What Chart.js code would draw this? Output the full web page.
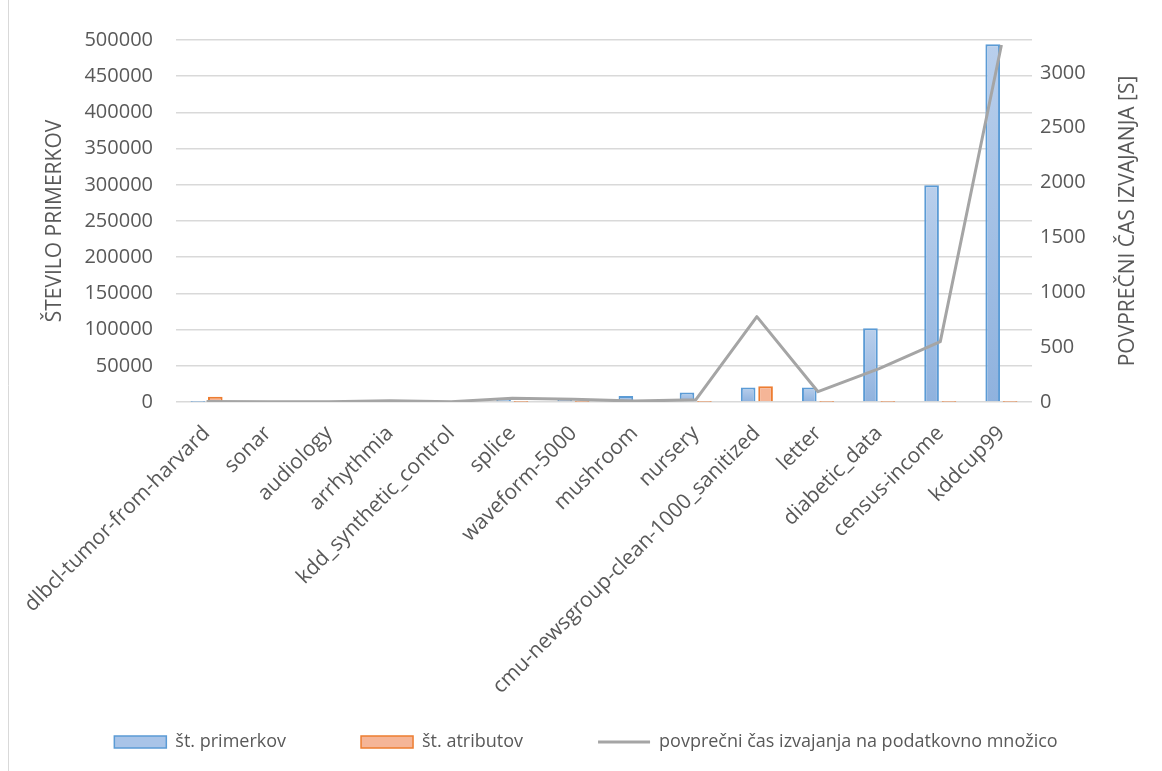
<!DOCTYPE html>
<html>
<head>
<meta charset="utf-8">
<title>Podatkovne množice</title>
<script src="https://cdn.jsdelivr.net/npm/chart.js@4/dist/chart.umd.min.js"></script>
<style>
  html, body { margin: 0; padding: 0; background: #fff; }
  #wrap { width: 1162px; height: 771px; }
</style>
</head>
<body>
<div id="wrap"><canvas id="chart" width="1162" height="771"></canvas></div>
<script>
// podatkovne množice
const categories = [
    'dlbcl-tumor-from-harvard', 'sonar', 'audiology', 'arrhythmia',
    'kdd_synthetic_control', 'splice', 'waveform-5000', 'mushroom', 'nursery',
    'cmu-newsgroup-clean-1000_sanitized', 'letter', 'diabetic_data',
    'census-income', 'kddcup99'
];

// št. primerkov
const instances = [77, 208, 226, 452, 600, 3190, 5000, 8124, 12960, 20000, 20000, 101766, 299285, 494021];

// št. atributov
const attributes = [7129, 60, 69, 279, 60, 61, 40, 22, 8, 21700, 16, 50, 42, 42];

// povprečni čas izvajanja [s]
const avgTime = [4, 3, 3, 11, 3, 35, 25, 8, 20, 778, 94, 305, 550, 3255];

const leftTicks = { min: 0, max: 500000, step: 50000 };
const rightTickValues = [0, 500, 1000, 1500, 2000, 2500, 3000];
const rightMax = 3300;
const rightTitle = 'POVPREČNI ČAS IZVAJANJA [S]';

const FONT = 'Open Sans';
const TEXT = '#595959';
const GRID = '#D9D9D9';

const PLOT_LEFT = 176;
const PLOT_RIGHT = 1032;
const PLOT_BOTTOM = 402;
const LEGEND_FONT = 18;
const LEGEND_PAD = 75;
const LEGEND_HEIGHT = 38;

function blueFill(ctx) {
    const chart = ctx.chart;
    if (!chart.chartArea || ctx.type !== 'data') return '#A9C4E8';
    const y = chart.scales.y;
    const top = y.getPixelForValue(ctx.raw);
    const base = y.getPixelForValue(0);
    const g = chart.ctx.createLinearGradient(0, top, 0, Math.max(base, top + 1));
    g.addColorStop(0, '#B9CFEC');
    g.addColorStop(1, '#8FB2DE');
    return g;
}

// bela podlaga in levi rob okvirja
const frame = {
    id: 'frame',
    beforeDraw(chart) {
        const c = chart.ctx;
        c.save();
        c.fillStyle = '#fff';
        c.fillRect(0, 0, chart.width, chart.height);
        c.strokeStyle = GRID;
        c.lineWidth = 1;
        c.beginPath();
        c.moveTo(8.5, 0);
        c.lineTo(8.5, chart.height);
        c.stroke();
        c.restore();
    }
};

// naslov desne osi, bran od spodaj navzgor
const rightAxisTitle = {
    id: 'rightAxisTitle',
    afterDraw(chart) {
        const s = chart.scales.y1;
        const c = chart.ctx;
        c.save();
        c.translate(s.right - 24, (s.top + s.bottom) / 2);
        c.rotate(-Math.PI / 2);
        c.font = '21px "' + FONT + '"';
        c.fillStyle = TEXT;
        c.textAlign = 'center';
        c.textBaseline = 'middle';
        c.fillText(rightTitle, 0, 0);
        c.restore();
    }
};

new Chart(document.getElementById('chart'), {
    type: 'bar',
    data: {
        labels: categories,
        datasets: [
            {
                label: 'št. primerkov',
                data: instances,
                backgroundColor: blueFill,
                borderColor: '#5B9BD5',
                borderWidth: 2,
                yAxisID: 'y',
                categoryPercentage: 0.57,
                barPercentage: 0.84,
                order: 1
            },
            {
                label: 'št. atributov',
                data: attributes,
                backgroundColor: '#F5B597',
                borderColor: '#ED7D31',
                borderWidth: 2,
                yAxisID: 'y',
                categoryPercentage: 0.57,
                barPercentage: 0.84,
                order: 1
            },
            {
                type: 'line',
                label: 'povprečni čas izvajanja na podatkovno množico',
                data: avgTime,
                borderColor: '#A5A5A5',
                backgroundColor: '#A5A5A5',
                borderWidth: 3,
                borderJoinStyle: 'round',
                pointRadius: 0,
                tension: 0,
                yAxisID: 'y1',
                order: 0
            }
        ]
    },
    options: {
        responsive: false,
        animation: false,
        devicePixelRatio: 1,
        layout: { padding: { top: 40, left: 20, right: 10, bottom: 10 } },
        plugins: {
            tooltip: { enabled: false },
            legend: {
                position: 'bottom',
                // prazen naslov z negativnim odmikom: legenda ostane nizka,
                // razmik med elementi (padding) pa širok
                title: {
                    display: true,
                    text: ' ',
                    font: { size: 1 },
                    padding: { top: 0, bottom: 10 - LEGEND_PAD - 1.2 }
                },
                labels: {
                    usePointStyle: true,
                    pointStyleWidth: 52,
                    boxHeight: 12,
                    padding: LEGEND_PAD,
                    color: TEXT,
                    font: { family: FONT, size: LEGEND_FONT },
                    sort: (a, b) => a.datasetIndex - b.datasetIndex,
                    generateLabels(chart) {
                        return chart.data.datasets.map((ds, i) => {
                            const isLine = ds.type === 'line';
                            return {
                                text: ds.label,
                                datasetIndex: i,
                                fillStyle: isLine ? 'transparent' : (i === 0 ? '#A9C4E8' : ds.backgroundColor),
                                strokeStyle: ds.borderColor,
                                lineWidth: isLine ? 3 : 1.5,
                                pointStyle: isLine ? 'line' : 'rect',
                                fontColor: TEXT,
                                hidden: false
                            };
                        });
                    }
                }
            }
        },
        scales: {
            x: {
                grid: { display: false },
                border: { display: false },
                ticks: {
                    color: TEXT,
                    font: { family: FONT, size: 21 },
                    autoSkip: false,
                    maxRotation: 45,
                    minRotation: 45,
                    padding: 11
                },
                afterFit(scale) {
                    // višina do legende
                    scale.height = 771 - 10 - LEGEND_HEIGHT - PLOT_BOTTOM;
                }
            },
            y: {
                position: 'left',
                min: leftTicks.min,
                max: leftTicks.max,
                grid: { color: GRID, lineWidth: 1.5, drawTicks: false },
                border: { display: false },
                ticks: {
                    stepSize: leftTicks.step,
                    color: TEXT,
                    padding: 23,
                    font: { family: FONT, size: 20 },
                    callback: v => String(v)
                },
                title: {
                    display: true,
                    text: 'ŠTEVILO PRIMERKOV',
                    color: TEXT,
                    font: { family: FONT, size: 21 },
                    padding: { top: 22, bottom: 0 }
                },
                afterFit(scale) {
                    scale.width = PLOT_LEFT - 20;
                }
            },
            y1: {
                position: 'right',
                min: 0,
                max: rightMax,
                grid: { display: false, drawTicks: false },
                border: { display: false },
                ticks: {
                    autoSkip: false,
                    color: TEXT,
                    padding: 8,
                    font: { family: FONT, size: 20 },
                    callback: v => String(v)
                },
                afterBuildTicks(scale) {
                    scale.ticks = rightTickValues.map(v => ({ value: v }));
                },
                afterFit(scale) {
                    scale.width = 1162 - 10 - PLOT_RIGHT;
                }
            }
        }
    },
    plugins: [frame, rightAxisTitle]
});
</script>
</body>
</html>
